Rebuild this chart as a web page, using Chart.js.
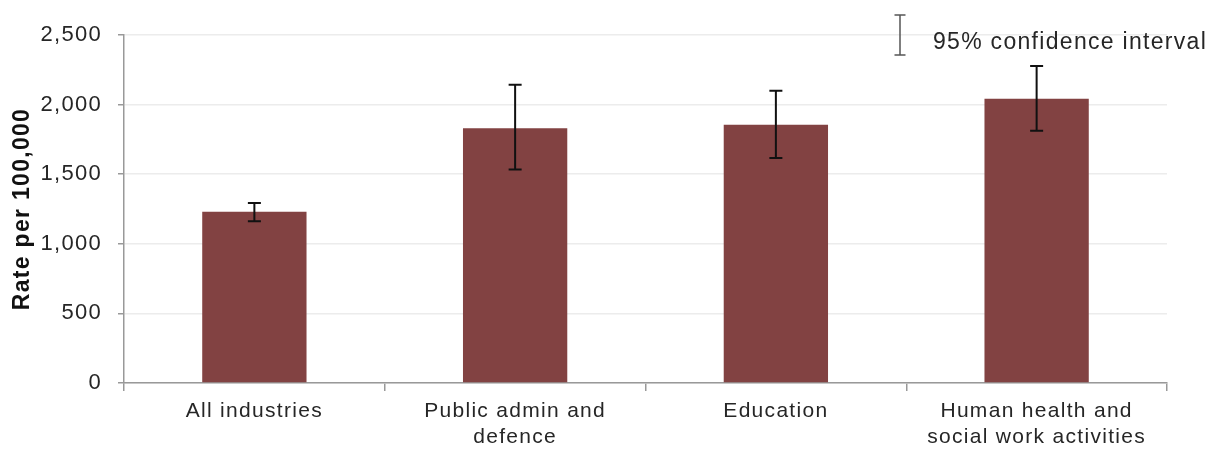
<!DOCTYPE html>
<html>
<head>
<meta charset="utf-8">
<script src="https://cdn.jsdelivr.net/npm/chart.js@4/dist/chart.umd.min.js"></script>
<style>
  html, body { margin: 0; padding: 0; background: #fff; }
  #wrap { width: 1219px; height: 450px; }
</style>
</head>
<body>
<div id="wrap"><canvas id="chart" width="1219" height="450"></canvas></div>
<script>
const categories = [
    'All industries',
    ['Public admin and', 'defence'],
    'Education',
    ['Human health and', 'social work activities']
];
const rates = [1231, 1830, 1855, 2042];
const ciLower = [1162, 1533, 1617, 1812];
const ciUpper = [1293, 2143, 2100, 2277];
const yTicks = [0, 500, 1000, 1500, 2000, 2500];

const FONT = "'Liberation Sans', Arial, sans-serif";

// the source renders text a little spread out
const spacing = {
    id: 'spacing',
    beforeUpdate(chart) { chart.ctx.letterSpacing = '1.3px'; },
    beforeDraw(chart) { chart.ctx.letterSpacing = '1.3px'; }
};

// error bars + legend key for the confidence interval
const errorBars = {
    id: 'errorBars',
    afterDatasetsDraw(chart) {
        const ctx = chart.ctx;
        const meta = chart.getDatasetMeta(0);
        const y = chart.scales.y;
        ctx.save();
        ctx.strokeStyle = '#111';
        ctx.lineWidth = 2;
        meta.data.forEach((bar, i) => {
            const yHi = y.getPixelForValue(ciUpper[i]);
            const yLo = y.getPixelForValue(ciLower[i]);
            const x = bar.x;
            ctx.beginPath();
            ctx.moveTo(x, yHi); ctx.lineTo(x, yLo);
            ctx.moveTo(x - 6.5, yHi); ctx.lineTo(x + 6.5, yHi);
            ctx.moveTo(x - 6.5, yLo); ctx.lineTo(x + 6.5, yLo);
            ctx.stroke();
        });

        // key
        ctx.strokeStyle = '#555';
        ctx.lineWidth = 1.5;
        ctx.beginPath();
        ctx.moveTo(900, 15); ctx.lineTo(900, 55);
        ctx.moveTo(894.5, 15); ctx.lineTo(905.5, 15);
        ctx.moveTo(894.5, 55); ctx.lineTo(905.5, 55);
        ctx.stroke();
        ctx.fillStyle = '#262626';
        ctx.font = '23px ' + FONT;
        ctx.letterSpacing = '1.3px';
        ctx.textBaseline = 'middle';
        ctx.textAlign = 'left';
        ctx.fillText('95% confidence interval', 933, 43);
        ctx.restore();
    }
};

new Chart(document.getElementById('chart'), {
    type: 'bar',
    data: {
        labels: categories,
        datasets: [{
            data: rates,
            backgroundColor: '#824242',
            borderWidth: 0,
            categoryPercentage: 1,
            barPercentage: 0.4
        }]
    },
    options: {
        responsive: false,
        animation: false,
        layout: { padding: { left: 0, right: 52, top: 35, bottom: 0 } },
        plugins: {
            legend: { display: false },
            tooltip: { enabled: false }
        },
        scales: {
            x: {
                grid: { drawOnChartArea: false, tickLength: 8, color: '#999', lineWidth: 1.5 },
                border: { color: '#999', width: 1.5 },
                ticks: {
                    color: '#262626',
                    padding: 8,
                    maxRotation: 0,
                    font: { family: FONT, size: 21, lineHeight: 1.2 }
                },
                afterFit(scale) { scale.height = 67; }
            },
            y: {
                min: 0,
                max: 2500,
                afterBuildTicks(scale) { scale.ticks = yTicks.map(v => ({ value: v })); },
                grid: { color: '#ececec', lineWidth: 1.5, tickLength: 6, tickColor: '#999' },
                border: { color: '#999', width: 1.5 },
                ticks: {
                    color: '#262626',
                    padding: 16,
                    font: { family: FONT, size: 22 },
                    callback: v => v.toLocaleString('en-US')
                },
                title: {
                    display: true,
                    text: 'Rate per 100,000',
                    color: '#111',
                    padding: { top: 9, bottom: 0 },
                    font: { family: FONT, size: 23, weight: 'bold' }
                },
                afterFit(scale) { scale.width = 124; }
            }
        }
    },
    plugins: [spacing, errorBars]
});
</script>
</body>
</html>
